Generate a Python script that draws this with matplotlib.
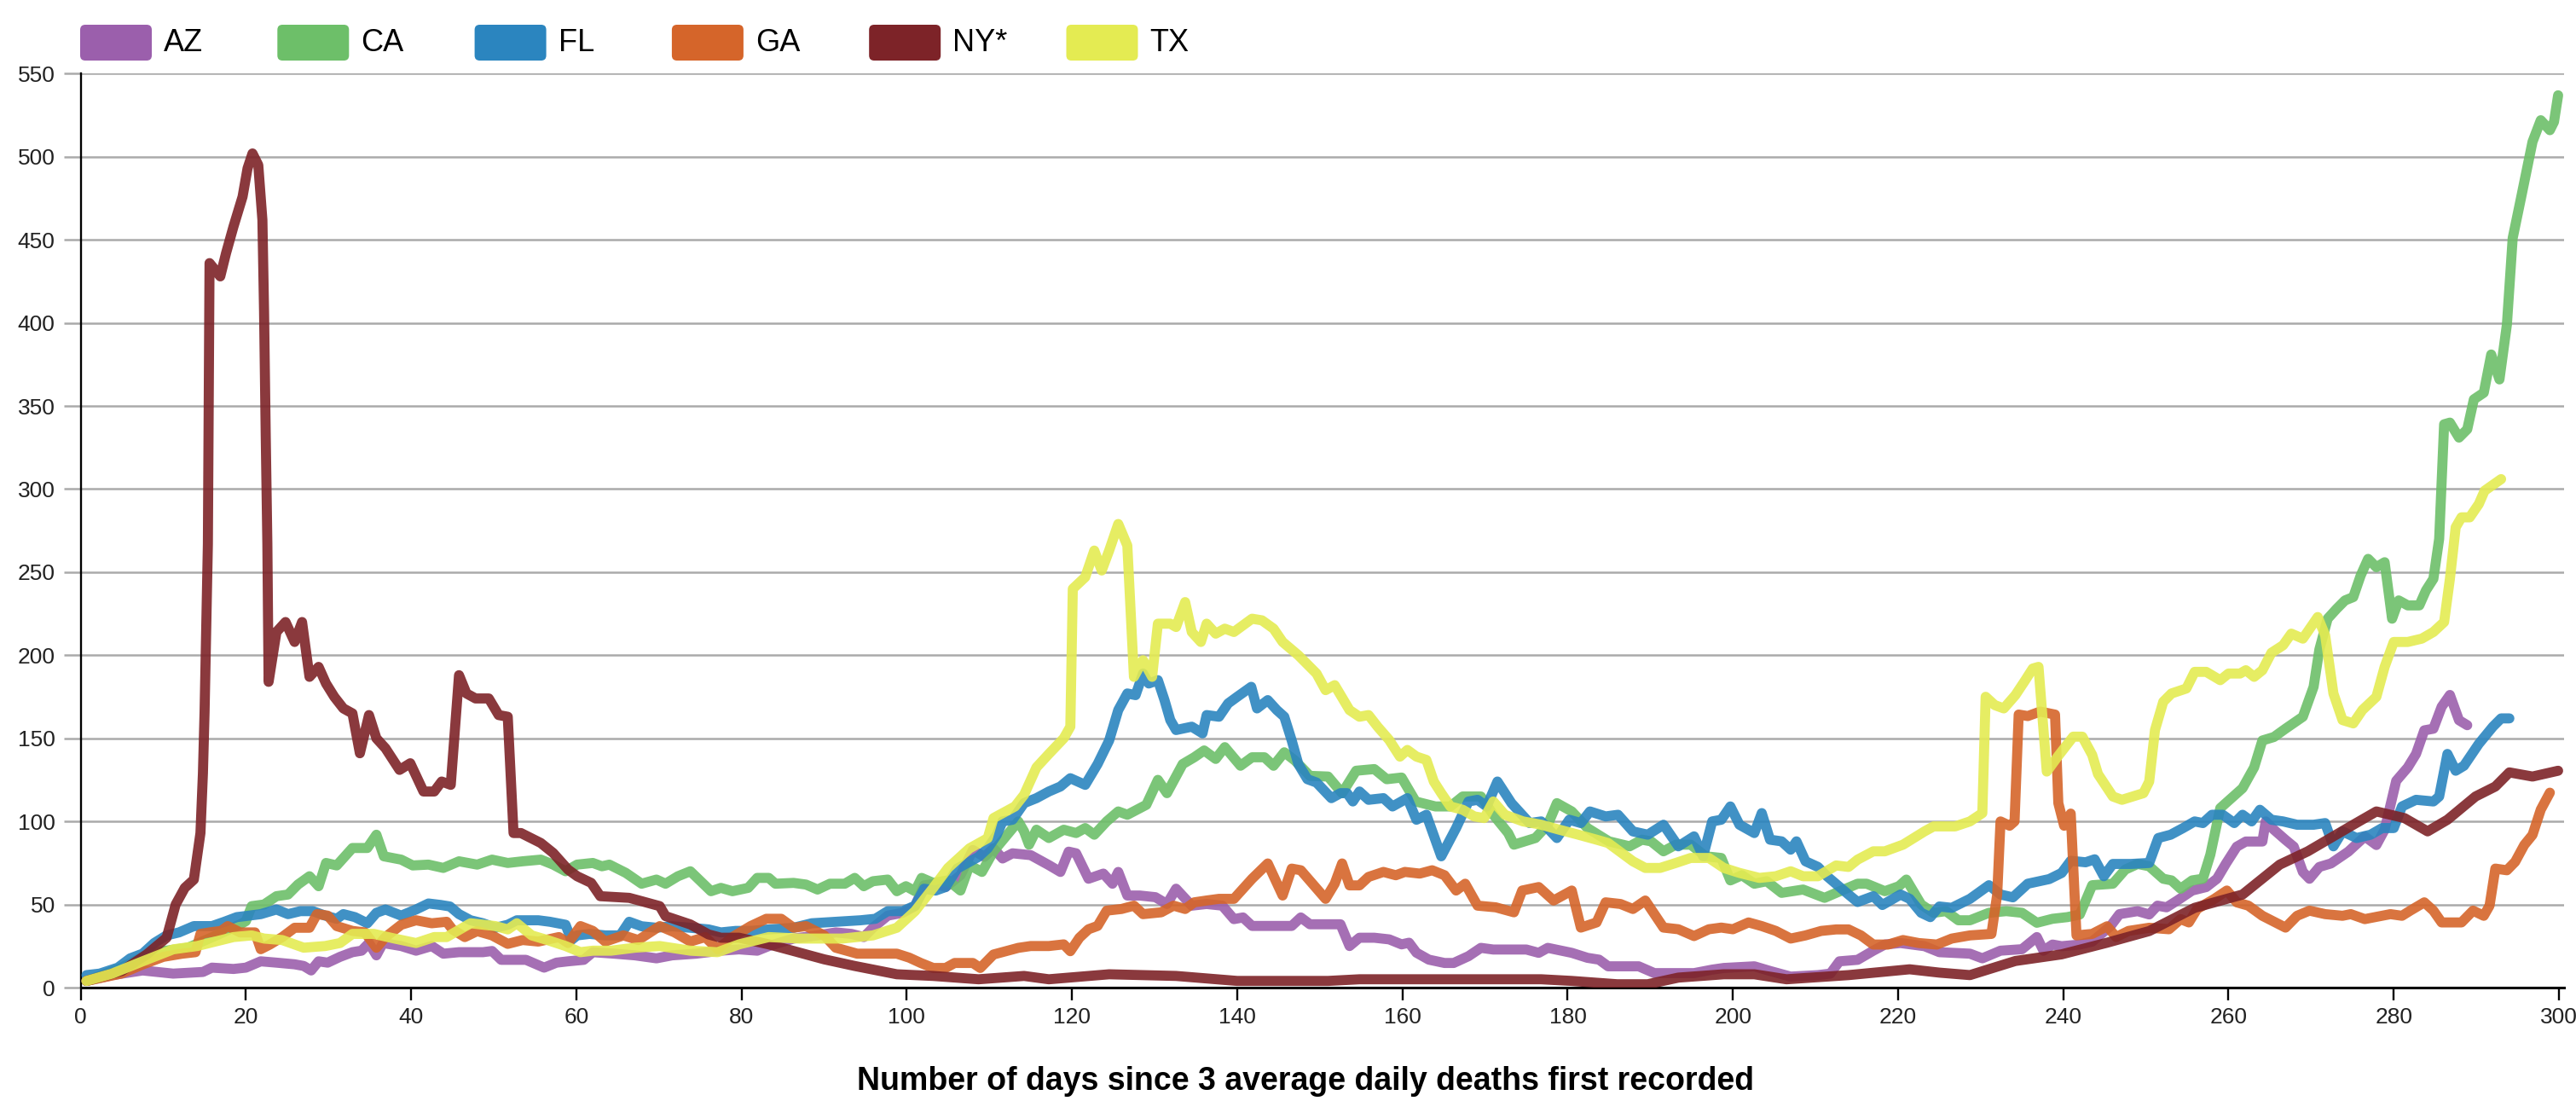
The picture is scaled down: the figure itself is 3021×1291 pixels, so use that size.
import matplotlib
matplotlib.use("Agg")
import matplotlib.pyplot as plt
from matplotlib.patches import FancyBboxPatch

plt.rcParams["font.family"] = ["Liberation Sans", "DejaVu Sans"]

# (day, 7-day average deaths)
az = [(0.7, 4), (3.8, 7.5), (7.5, 10.3), (11.2, 8.4), (14.8, 9.4), (15.9, 12), (18.5, 11.2), (20, 12),
      (21.8, 15.8), (23.7, 15), (25.9, 14), (27, 13), (27.9, 10.3), (28.8, 15.8), (29.9, 15), (31.4, 18.5),
      (32.9, 21.3), (34, 22.2), (34.9, 26.8), (35.8, 19.4), (36.6, 26.8), (38.8, 25), (40.6, 22.2), (42.5, 25),
      (43.9, 20.4), (45.8, 21.3), (48.7, 21.3), (49.8, 22), (50.9, 16.7), (53.9, 16.7), (56.1, 12), (57.6, 15),
      (59, 15.8), (60.9, 16.7), (62, 21.3), (64.6, 20.4), (67.1, 19.4), (69.7, 17.6), (71.6, 19.4), (74.5, 20.4),
      (77.5, 22.2), (79.7, 23), (81.9, 22.2), (83.3, 25), (86.3, 29.5), (89.2, 31.4), (91.4, 33.2), (93.3, 32.3),
      (94.8, 30.4), (95.9, 36), (97.7, 43.3), (99.5, 45), (101, 49), (102.1, 61.5), (103.5, 62.5), (104.7, 60.5),
      (106.5, 67.6), (108, 82.8), (109.4, 78.7), (110.5, 83.8), (111.6, 77.7), (112.8, 80.8), (115, 79.7),
      (117.2, 73.7), (118.6, 69.6), (119.6, 81.8), (120.5, 80.8), (122, 65.5), (123.8, 68.6), (124.9, 62.5),
      (125.6, 69.6), (126.7, 55.4), (128.2, 55.4), (130.1, 54.4), (131.5, 50.3), (132.6, 59.5), (134.5, 49.3),
      (136.3, 50.3), (138.2, 49.3), (139.6, 41.2), (140.7, 42.2), (141.8, 37.1), (146.6, 37.1), (147.7, 42.2),
      (148.8, 38.1), (152.5, 38.1), (153.6, 25), (154.8, 30), (156.6, 30), (158.4, 29), (159.9, 26), (160.8, 27),
      (161.7, 21), (163.2, 16.8), (165.1, 14.8), (166.2, 14.8), (168, 18.9), (169.5, 23.9), (171, 22.9),
      (175, 22.9), (176.5, 20.9), (177.6, 23.9), (180.5, 20.9), (182.4, 17.9), (183.8, 16.8), (184.9, 12.8),
      (188.6, 12.8), (190.5, 8.7), (195.3, 8.7), (197.5, 10.8), (198.9, 11.8), (202.6, 12.8), (204.5, 10),
      (207, 6.6), (210.3, 7.5), (211.8, 8.4), (212.9, 15.8), (215.1, 16.7), (217, 22.2), (218.4, 25.9),
      (220.3, 26.8), (223.2, 24.9), (225, 21.3), (228.7, 20.4), (230.2, 17.6), (232.4, 22.2), (235, 23.1),
      (236.8, 30.4), (237.6, 22.2), (238.7, 25.9), (239.8, 24.9), (242, 25.9), (243.5, 27.7), (245.7, 36.9),
      (246.8, 44.2), (249, 46), (250.4, 44), (251.4, 49.3), (252.5, 48.3), (253.8, 52.4), (255.6, 58.4),
      (257.3, 60.5), (258.6, 65.5), (259.7, 74.7), (261, 84.8), (262.1, 87.9), (264.1, 87.9), (264.5, 100),
      (265.5, 95), (266.9, 88.9), (267.9, 84.8), (269, 69.6), (269.8, 65.5), (271, 72.6), (272.4, 74.7),
      (274.5, 81.8), (276.5, 90.9), (277.9, 85.8), (278.9, 95), (280.3, 124.4), (281.7, 132.5), (282.7, 140.6),
      (283.7, 154.8), (284.8, 155.8), (285.8, 169), (286.8, 176.1), (287.9, 160.9), (288.9, 157.9)]

ca = [(0.7, 4), (4.9, 12), (8.6, 21), (13, 24), (16.7, 32), (19.3, 38), (20, 40), (20.7, 49), (22.2, 50),
      (23.7, 55), (25.1, 56), (26.3, 62), (27.7, 67), (28.8, 61), (29.7, 75), (31, 73.5), (32.9, 84), (34.7, 84),
      (35.8, 92), (36.7, 79), (38.8, 77), (40.2, 73.5), (42.1, 74), (43.9, 72), (45.8, 76), (48, 74), (49.8, 77),
      (51.7, 75), (53.5, 76), (55.7, 77), (57.2, 74), (58.7, 70), (60.1, 74), (62, 75), (63.1, 73), (64, 74),
      (66, 69), (67.9, 62.5), (69.7, 65), (70.8, 62.5), (72.3, 67), (73.8, 70), (76.3, 58), (77.5, 60),
      (78.9, 58), (80.8, 60), (81.9, 66), (83.3, 66), (84.1, 62.5), (86.3, 63), (87.8, 62), (89.2, 59),
      (90.7, 62.5), (92.5, 62.5), (93.7, 66), (94.8, 61), (95.9, 64), (97.7, 65), (98.8, 58), (99.9, 61),
      (101, 58), (101.8, 66), (103.2, 63), (105, 64.5), (106.5, 58.4), (107.6, 73.7), (109.1, 69.6),
      (110.5, 82), (112, 91), (113.5, 100), (114.2, 94), (114.8, 86), (115.7, 95), (117.2, 90), (119, 95),
      (120.5, 93), (121.6, 96), (122.7, 92), (124.2, 100), (125.6, 106), (126.7, 104), (129, 110), (130.4, 125),
      (131.5, 117), (133.4, 134.5), (134.8, 138.6), (136, 142.7), (137.4, 137.6), (138.5, 144.7), (140.4, 133.5),
      (141.8, 138.6), (143.3, 138.6), (144.4, 133.5), (145.7, 141.6), (147, 136.6), (148.8, 127.4), (151, 127),
      (152.7, 117), (154.4, 130.5), (156.6, 131.5), (158.1, 125.4), (159.9, 126.4), (161.6, 112), (164, 109),
      (165.8, 109), (167.3, 115), (169.5, 115), (171, 104), (172.8, 93), (173.5, 86), (176.1, 90), (177.6, 98),
      (178.7, 111), (180.5, 106), (182.4, 96), (185, 88), (187.5, 85), (189, 89), (190.1, 88), (191.6, 82),
      (193.1, 86), (194.9, 86), (196.7, 79), (198.6, 78), (199.7, 64.5), (201.1, 67.6), (202.6, 62.5),
      (204.1, 64), (205.9, 57), (208.5, 59), (211.1, 54), (212.5, 57), (215.1, 62.5), (216.2, 62.5),
      (218.4, 58), (220.1, 61), (221, 65), (222.8, 50), (224.3, 45), (225.8, 46), (227.3, 40.5), (228.7, 40.5),
      (231, 45), (233.1, 46), (235, 45), (236.8, 39), (238.7, 41.4), (240.5, 42.4), (242, 44), (243.5, 61.6),
      (246, 62.5), (247.5, 71), (249, 74.4), (250.4, 73), (252.1, 65.5), (253.1, 64.5), (254.2, 59.5),
      (255.6, 64.5), (256.9, 65.5), (257.8, 80), (259, 108), (261.7, 120), (263.1, 132.5), (264.1, 148.7),
      (265.5, 150.8), (266.9, 155.8), (269, 163), (270.3, 181), (271, 203.5), (272, 222), (273.1, 228),
      (274.1, 233), (275.1, 235), (276, 248), (276.9, 258), (277.9, 253), (278.9, 256), (279.8, 222),
      (280.6, 233), (281.7, 230), (283.1, 230), (283.9, 239), (284.8, 246), (285.5, 270), (286.1, 339),
      (286.8, 340), (287.9, 331), (288.9, 336), (289.7, 354), (290.9, 358), (291.8, 381), (292.8, 366),
      (293.7, 399), (294.4, 451), (295.4, 475), (296.8, 509), (297.8, 522), (298.9, 516), (299.4, 521),
      (299.9, 537)]

fl = [(0.7, 7.5), (2.3, 8.4), (4.5, 12), (6, 17.6), (7.5, 20.4), (8.9, 26.8), (10.4, 31.4), (11.9, 33.2),
      (13.7, 37), (15.9, 37), (17.4, 39.6), (18.9, 42.4), (20.4, 43.3), (21.8, 44.2), (23.7, 47), (25.1, 44.2),
      (26.6, 46), (28.1, 46), (29.6, 43.3), (31, 41.4), (31.8, 44.2), (33.2, 42.4), (34.7, 38.7), (35.8, 45),
      (36.9, 47), (38.8, 43.3), (40.6, 47), (42.1, 50.6), (43.6, 49.7), (44.7, 48.8), (45.8, 44.2), (47.2, 40.5),
      (48.7, 38.7), (50.2, 36), (51.7, 37.8), (52.8, 40.5), (55.4, 40.5), (56.8, 39.6), (58.7, 37.8),
      (59.4, 28.6), (60.1, 31.4), (61.6, 32.3), (63.5, 31.4), (65.3, 31.4), (66.4, 39.6), (67.9, 36.9),
      (69.7, 36), (71.6, 36.9), (73.8, 36), (76, 35), (77.5, 33.2), (79.3, 34.1), (81.1, 34.1), (83.3, 35),
      (86.3, 36), (88.5, 38.7), (91.4, 39.6), (94.4, 40.5), (96.2, 41.4), (97.7, 46), (99.5, 46), (101, 49.3),
      (102.1, 59.5), (103.5, 58.4), (104.7, 60.5), (106.1, 71.6), (107.6, 75.7), (108.7, 78.7), (109.8, 83.8),
      (110.9, 91.9), (111.6, 100), (112.8, 101), (114.2, 111), (115.7, 114), (117.2, 118), (118.6, 121),
      (119.8, 126), (121.6, 122), (123.1, 134.5), (124.5, 148.7), (125.6, 167), (126.7, 177), (127.7, 176),
      (128.6, 189), (129.3, 183), (130.4, 185), (131.2, 173), (131.9, 161), (132.6, 155), (134.5, 157),
      (135.8, 153), (136.3, 164), (137.8, 163), (138.9, 171), (140, 175), (141.7, 181), (142.4, 168),
      (143.7, 173), (144.8, 167), (145.7, 163), (146.6, 148.7), (147.4, 134.5), (148.5, 125.4), (149.6, 123.4),
      (151.4, 114), (152.5, 117), (153.3, 117), (154, 112), (154.8, 118), (155.9, 113), (157.7, 114),
      (158.8, 109), (160.6, 114), (161.7, 101), (162.9, 104), (164.7, 79), (166.5, 96), (168, 112), (169.1, 113),
      (170.2, 109), (171.5, 124), (173.2, 111), (175.4, 99), (176.8, 100), (178.7, 90), (180.2, 101),
      (181.6, 99), (182.7, 106), (184.6, 103), (186.1, 104), (187.9, 94), (189.7, 92), (191.6, 98), (193.4, 85),
      (195.3, 91), (196.4, 79), (197.5, 100), (198.6, 101), (199.7, 109), (200.8, 98), (202.6, 93),
      (203.5, 105), (204.5, 89), (205.9, 88), (207, 83), (207.7, 88), (208.8, 76), (210.3, 72.6), (211.4, 67),
      (214, 56), (215.1, 51.5), (217, 55), (218.1, 49.7), (220.3, 56), (221.4, 53.4), (222.8, 45),
      (223.9, 42.4), (225, 48.8), (226.5, 48), (228.7, 53.4), (231, 61.6), (232.4, 56), (233.9, 54.3),
      (235.7, 62.5), (238.3, 65.3), (239.8, 69), (240.9, 76.3), (242.7, 75.4), (243.8, 77.2), (244.9, 67),
      (246, 74.4), (248.2, 74.4), (250.4, 75), (251.5, 90), (253, 92), (254.5, 96), (255.9, 100), (256.9, 99),
      (258, 104), (259.3, 104), (260.7, 99), (261.7, 104), (262.8, 100), (263.8, 107), (265.2, 101),
      (266.6, 100), (268.3, 98), (270.3, 98), (271.7, 99), (272.7, 85), (273.8, 94), (275.5, 90), (277.2, 92),
      (278.6, 96), (280, 96), (281, 109), (282.7, 113), (284.8, 112), (285.5, 115), (286.5, 140.6),
      (287.5, 130.5), (288.5, 133.5), (290.3, 146.7), (292, 157), (293, 162), (294, 162)]

ga = [(0.7, 4), (4.9, 8.4), (7.5, 13.9), (10, 18.5), (12.3, 20.4), (13.9, 21.3), (14.5, 32.3), (15.6, 33.2),
      (17, 34.1), (17.8, 37), (19.3, 33.2), (21.1, 33.2), (21.8, 23.1), (22.9, 25.9), (24.4, 30.4), (25.9, 36),
      (27.7, 36), (28.6, 44.2), (29.9, 43.3), (31, 37), (32.9, 34.1), (34.4, 33.2), (35.8, 24), (36.9, 30.4),
      (38.8, 37.8), (40.6, 40.5), (42.5, 38.7), (44.3, 39.6), (45, 35), (46.5, 30.4), (48, 34), (49.8, 31.4),
      (51.7, 26.3), (53.5, 28.6), (55.4, 27.7), (57.9, 30.4), (59, 26.8), (60.5, 37), (62, 34.1), (63.5, 27.7),
      (65.7, 31.4), (67.5, 28.6), (70.1, 37), (71.9, 33.2), (73.8, 27.7), (75.6, 30.4), (77.1, 23.1),
      (78.9, 30.4), (81.1, 37), (83, 41.4), (84.8, 41.4), (86.3, 36), (87.8, 37), (90, 31.4), (91.4, 24),
      (94, 20.4), (95.9, 20.4), (98.8, 20.4), (100.3, 18), (101.7, 14.8), (103.2, 11.8), (104.7, 11.8),
      (105.8, 14.8), (108, 14.8), (108.9, 11.8), (110.5, 19.9), (113.5, 23.9), (115, 25), (117.2, 25), (119, 26),
      (119.8, 21.9), (120.9, 30), (122, 35.1), (123.1, 37.1), (124.2, 46.3), (126, 47.3), (127.5, 49.3),
      (128.6, 44.2), (130.8, 45.3), (132.3, 49.3), (133.7, 47.3), (134.8, 51.3), (136.3, 52.4), (137.8, 53.4),
      (139.6, 53.4), (141.8, 65.5), (143.7, 74.7), (145.5, 55.4), (146.6, 71.6), (147.7, 70.6), (150.7, 53.4),
      (151.8, 62.5), (152.7, 74.7), (153.6, 61.5), (154.8, 61.5), (155.9, 66.6), (157.7, 69.6), (159.2, 67.6),
      (160.3, 69.6), (162.1, 68.6), (163.6, 70.6), (165.1, 67.6), (166.5, 58.4), (167.6, 62.5), (169.1, 49.3),
      (171.3, 48.3), (173.5, 45.3), (174.5, 58.4), (176.5, 60.5), (178.3, 52.4), (180.5, 58.4), (181.6, 36.1),
      (183.5, 39.2), (184.6, 51.3), (186.4, 50.3), (187.9, 47.3), (189.4, 52.4), (191.6, 36.1), (193.4, 35.1),
      (195.3, 31), (197.1, 35.1), (198.6, 36.1), (200, 35.1), (201.9, 39.2), (203.5, 37), (205.2, 34.1),
      (207, 29.5), (208.8, 31.4), (210.7, 34.1), (212.5, 35), (214, 35), (215.5, 31.4), (217, 25.9),
      (218.8, 25.9), (220.6, 28.6), (222.5, 26.8), (224.7, 25.9), (226.5, 29.5), (228.7, 31.4), (231.3, 32.3),
      (232, 56), (232.4, 100), (233.5, 97.4), (234.1, 100), (234.6, 164.3), (235.7, 163.4), (237.2, 166.1),
      (239, 164.3), (239.4, 111), (240.1, 97.4), (240.9, 104.7), (241.6, 31.4), (243.5, 32.3), (245.3, 36.9),
      (246.4, 30.4), (247.9, 34.1), (250.4, 36), (252.8, 35.1), (254.2, 41.2), (255.2, 39.2), (256.2, 47.3),
      (258.3, 53.4), (259.8, 58.4), (261, 51.3), (262.4, 49.3), (264.1, 43.2), (266.9, 36.1), (268.3, 43.2),
      (269.8, 46.3), (271.7, 44.2), (273.8, 43.2), (274.8, 44.2), (276.5, 41.2), (279.6, 44.2), (281, 43.2),
      (282, 46.3), (283.7, 51.3), (284.8, 46.3), (285.8, 39.2), (288.2, 39.2), (289.6, 46.3), (290.9, 43.2),
      (291.6, 49.3), (292.3, 71.6), (293.7, 70.6), (294.7, 75.7), (295.8, 85.8), (296.8, 91.9), (297.8, 107.1),
      (298.9, 117.3)]

ny = [(0.7, 4), (5, 10), (8, 20), (10.4, 30), (11.5, 50), (12.6, 60), (13.7, 65), (14.5, 93), (14.8, 129),
      (15, 166), (15.4, 267), (15.6, 436), (16.9, 428), (17.6, 442), (18.5, 458), (19.6, 476), (20.2, 493),
      (20.8, 502), (21.5, 495), (22, 462), (22.2, 407), (22.4, 333), (22.6, 267), (22.75, 184), (23.7, 214),
      (24.8, 220), (25.9, 208), (26.8, 220), (27.7, 187), (28.8, 193), (29.7, 183), (30.7, 175), (31.8, 168),
      (32.9, 165), (33.8, 141), (34.9, 164), (35.8, 150), (36.9, 144), (38.6, 131), (39.9, 135), (41.5, 118),
      (42.8, 118), (43.7, 124), (44.8, 122), (45.8, 188), (46.7, 177), (47.8, 174), (49.4, 174), (50.6, 164),
      (51.7, 163), (52.4, 93), (53.3, 93), (55.7, 87), (57.2, 81), (59, 71), (60.1, 67), (61.8, 63), (62.9, 55),
      (66.4, 54), (67.9, 52), (70.1, 49), (70.8, 43), (73.8, 38), (76, 32), (77.5, 30), (79.7, 30), (83.3, 26),
      (86.3, 22), (90, 17), (93.7, 13), (98.8, 8), (103.2, 7), (108.7, 5), (114.2, 7), (117.2, 5), (124.5, 8),
      (132.6, 7), (140, 4), (151, 4), (154.8, 5), (165.8, 5), (176.8, 5), (180.5, 4), (186, 2), (189.7, 2),
      (193.4, 6), (198.9, 8), (202.6, 8), (206.5, 5), (214, 7.5), (221.4, 11), (225, 9), (228.7, 7.5),
      (234.2, 16), (239.8, 20), (245.3, 27), (250.4, 34), (255.9, 48), (261.7, 56), (266.2, 74), (269.6, 82),
      (275.1, 98), (277.9, 106), (281.3, 102), (284.1, 94), (286.5, 101), (289.9, 115), (292.3, 121),
      (294, 129.5), (296.8, 127), (299.9, 130.5)]

tx = [(0.7, 4), (3.8, 8.4), (7.5, 15.8), (11.2, 23), (14.1, 25), (16.3, 27.7), (18.5, 30.4), (20.7, 31.4),
      (22.2, 29.5), (24.4, 28.6), (27, 24), (29.6, 25), (31.4, 26.8), (32.9, 32.3), (35.5, 32.3), (38, 29.5),
      (40.6, 26.8), (42.8, 30.4), (44.3, 30.4), (47.2, 38.7), (50.2, 37), (51.7, 35), (52.8, 38.7), (54.6, 31.4),
      (56.5, 28.6), (58.7, 25), (60.5, 21.3), (62, 22.2), (64.2, 22.2), (67.1, 24), (70.1, 25), (73.8, 22.2),
      (77.1, 21.3), (79.7, 26), (83.3, 30.4), (87, 29.5), (90, 29.5), (92.2, 29.5), (95.9, 31.4), (98.8, 36),
      (101, 46), (103.2, 60), (105, 72), (107.6, 83.8), (109.8, 89.9), (110.5, 102), (113.1, 109), (114.2, 116),
      (115.7, 132.5), (117.2, 140.6), (119, 150), (119.8, 157), (120.1, 240), (121.6, 247), (122.7, 263),
      (123.6, 251), (124.5, 263), (125.6, 279), (126.7, 266), (127.5, 187), (128.6, 197), (129.7, 187),
      (130.4, 219), (131.9, 219), (132.6, 217), (133.7, 232), (134.5, 214), (135.6, 208), (136.3, 219),
      (137.4, 213), (138.5, 216), (139.6, 214), (141.8, 222), (143, 221), (144.4, 216), (145.5, 208),
      (147.4, 200), (149.6, 189), (150.7, 179), (151.8, 182), (153.6, 167), (154.8, 163), (155.9, 164),
      (157, 157), (158.4, 149), (159.7, 139), (160.6, 143), (161.7, 139), (162.9, 137), (163.8, 124),
      (164.7, 117), (165.8, 109), (167.3, 107), (168.7, 103), (169.9, 102), (171, 112), (172.4, 104),
      (174.6, 100), (176.8, 98), (179, 95), (181.3, 92), (183.5, 89), (184.9, 87), (187.9, 76), (189.4, 72),
      (191.2, 72), (193.1, 75), (194.9, 78), (197.1, 78), (198.9, 72), (200.8, 69), (203.2, 66), (205.2, 67),
      (207, 70), (208.5, 67), (210.3, 67), (212.5, 73.5), (214, 72.6), (215.1, 77), (217, 82), (218.4, 82),
      (220.6, 86), (223.2, 94), (224.3, 97), (226.9, 97), (228.7, 100), (230.2, 105), (230.6, 175),
      (231.7, 170), (232.8, 168), (234.2, 176), (235.4, 185), (236.3, 192), (237, 193), (238, 130),
      (239.4, 139.5), (241.2, 151), (242.3, 151), (243.5, 140), (244.2, 128.5), (246, 115), (247.1, 113),
      (249.7, 117), (250.4, 124), (251.1, 155), (252.1, 172), (253.1, 177), (254.9, 180), (255.9, 190),
      (257.3, 190), (259, 185), (260, 189), (261.4, 189), (262.1, 191), (263.1, 187), (264.1, 191),
      (265.2, 201.5), (266.6, 206), (267.6, 213), (269, 210), (270.8, 223), (271.7, 212), (272.7, 177),
      (273.8, 161), (275.1, 159), (276.2, 167), (277.9, 175), (278.9, 193), (280, 208), (281.7, 208),
      (283.4, 210), (284.8, 214), (286.1, 220), (286.8, 246), (287.5, 277), (288.2, 283), (289.2, 283),
      (290.3, 291), (291, 299), (293, 306)]

states = ["AZ", "CA", "FL", "GA", "NY*", "TX"]
series = [az, ca, fl, ga, ny, tx]
colors = ["#9b5fac", "#6dbf69", "#2b85bf", "#d5652a", "#7d2328", "#e4eb52"]
y_ticks = list(range(0, 551, 50))
x_ticks = list(range(0, 301, 20))

W, H = 3021, 1291
fig = plt.figure(figsize=(W / 100, H / 100), dpi=100)

x0, x1 = 94.6, 3007
y0, y1 = 1158, 86.4
ax = fig.add_axes([x0 / W, 1 - y0 / H, (x1 - x0) / W, (y0 - y1) / H])
ax.set_xlim(0, 300 * (x1 - x0) / (3001 - x0))
ax.set_ylim(0, 550)

for pts, col in zip(series, colors):
    d, v = zip(*pts)
    ax.plot(d, v, color=col, lw=8.5, alpha=0.9, solid_capstyle="round",
            solid_joinstyle="round", zorder=3)

ax.set_yticks(y_ticks)
ax.set_xticks(x_ticks)
ax.grid(axis="y", color="#aaaaaa", lw=1.8, zorder=0)
ax.set_axisbelow(True)
ax.tick_params(axis="y", length=14.5, width=1.8, color="#aaaaaa", pad=7,
               labelsize=19, labelcolor="#222222")
ax.tick_params(axis="x", length=10.8, width=1.7, color="black", pad=5.5,
               labelsize=19, labelcolor="#222222")
yt = ax.yaxis.get_major_ticks()
for t in (yt[0], yt[-1]):
    t.tick1line.set_color("black")
for s in ["top", "right"]:
    ax.spines[s].set_visible(False)
ax.spines["left"].set_linewidth(1.7)
ax.spines["left"].set_bounds(0, 550)
ax.spines["bottom"].set_linewidth(2.2)

fig.text(1531 / W, 1 - 1278 / H, "Number of days since 3 average daily deaths first recorded",
         ha="center", va="baseline", fontsize=27, fontweight="bold", color="black")

# legend across the top
lax = fig.add_axes([0, 0, 1, 1])
lax.set_xlim(0, W)
lax.set_ylim(H, 0)
lax.axis("off")
for i, (name, col) in enumerate(zip(states, colors)):
    lx = 94 + i * 231.3
    lax.add_patch(FancyBboxPatch((lx + 6, 35), 72, 30, boxstyle="round,pad=6",
                                 facecolor=col, edgecolor="none"))
    lax.text(lx + 98, 51, name, ha="left", va="center", fontsize=26, color="black")

fig.savefig("out.png", dpi=100)
